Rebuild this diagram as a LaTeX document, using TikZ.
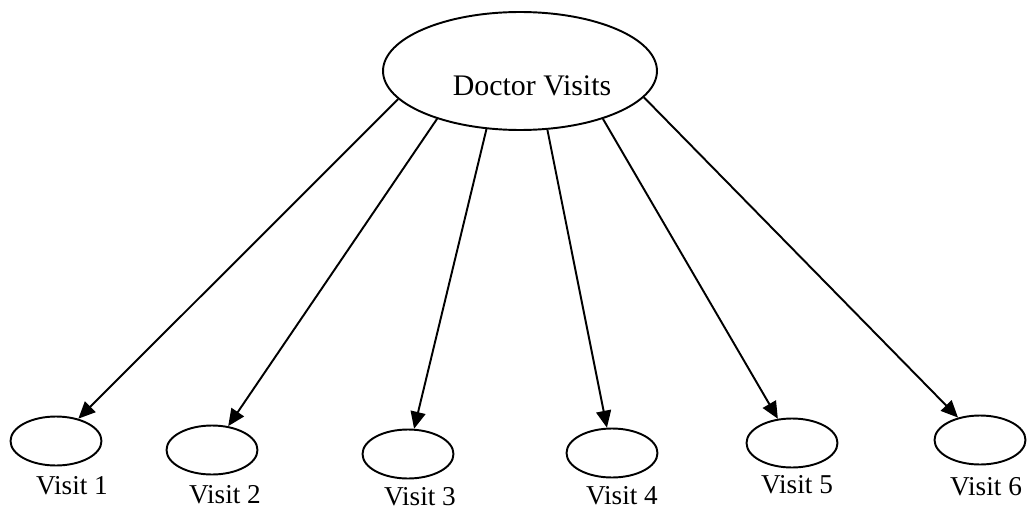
\documentclass[tikz,border=0pt]{standalone}
\usepackage{fontspec}
\setmainfont{Liberation Serif}
\usetikzlibrary{shapes.geometric,arrows.meta}
\tikzset{
	oval/.style={draw,ellipse,line width=1.1pt,inner sep=0pt,minimum width=1.82cm,minimum height=0.98cm},
	bigoval/.style={draw,ellipse,line width=1.1pt,inner sep=0pt,minimum width=5.48cm,minimum height=2.36cm},
	visit/.style={font=\fontsize{15.5}{18}\selectfont,inner sep=0pt},
	link/.style={line width=1.1pt,-{Triangle[length=0.34cm,width=0.3cm]}}
}
\begin{document}
\begin{tikzpicture}[x=0.02cm,y=-0.02cm]
				\useasboundingbox (0,0) rectangle (1027,510);
				\node[bigoval] (dv) at (520,71) {};
				\node[font=\fontsize{17}{20}\selectfont,inner sep=0pt] (dvtext) at (532,86) {Doctor Visits};
				\node[oval] (v1) at (56,441) {};
				\node[oval] (v2) at (212,450) {};
				\node[oval] (v3) at (408,454) {};
				\node[oval] (v4) at (612,453) {};
				\node[oval] (v5) at (792,443) {};
				\node[oval] (v6) at (980,440) {};
				\node[visit] (t1) at (72,486) {Visit 1};
				\node[visit] (t2) at (225,495) {Visit 2};
				\node[visit] (t3) at (420,497) {Visit 3};
				\node[visit] (t4) at (622,496) {Visit 4};
				\node[visit] (t5) at (797,485) {Visit 5};
				\node[visit] (t6) at (986,487) {Visit 6};
				\draw[link] (dv.193) -- (v1);
				\draw[link] (dv.210) -- (v2);
				\draw[link] (dv.240) -- (v3);
				\draw[link] (dv.295) -- (v4);
				\draw[link] (dv.330) -- (v5);
				\draw[link] (dv.348) -- (v6);
			\end{tikzpicture}
\end{document}
